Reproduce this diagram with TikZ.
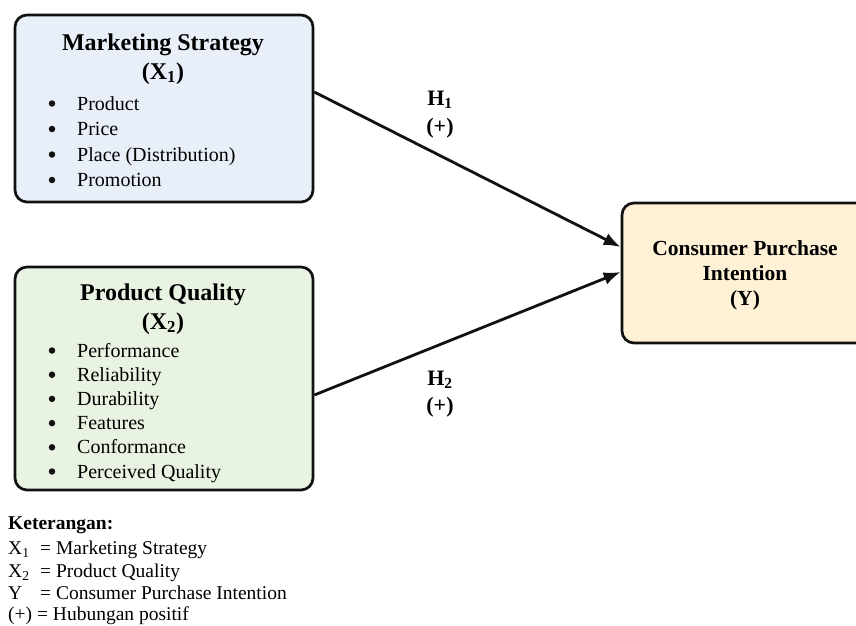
\documentclass[tikz,border=0pt]{standalone}
\usepackage{fontspec}
\setmainfont{Liberation Serif}
\usetikzlibrary{arrows.meta}
\definecolor{bluefill}{HTML}{E8EFF9}
\definecolor{greenfill}{HTML}{E9F3E1}
\definecolor{yellowfill}{HTML}{FEF1D6}
\definecolor{ink}{HTML}{111111}
\tikzset{
  box/.style={draw=ink, line width=2.7pt, rounded corners=12pt, inner sep=0pt},
  ttl/.style={anchor=base, font=\fontsize{24}{28}\selectfont\bfseries, inner sep=0pt},
  itm/.style={anchor=base west, font=\fontsize{20}{24}\selectfont, inner sep=0pt},
  bul/.style={circle, fill=ink, inner sep=0pt, minimum size=6.5pt},
  ytx/.style={anchor=base, font=\fontsize{21.5}{26}\selectfont\bfseries, inner sep=0pt},
  hyp/.style={anchor=base, font=\fontsize{22}{26}\selectfont\bfseries, inner sep=0pt},
  leg/.style={anchor=base west, font=\fontsize{19.5}{23}\selectfont, inner sep=0pt},
  arr/.style={draw=ink, line width=2.8pt, -{Latex[length=17pt,width=13pt]}}
}
\begin{document}
\begin{tikzpicture}[x=1pt,y=-1pt]
\useasboundingbox (0,0) rectangle (856,625);
% boxes
\node[box, fill=bluefill, minimum width=298pt, minimum height=187pt] (b1) at (164,108.5) {};
\node[box, fill=greenfill, minimum width=298pt, minimum height=223pt] (b2) at (164,378.5) {};
\node[box, fill=yellowfill, minimum width=250pt, minimum height=140pt] (y) at (747,273) {};
% box 1 text
\node[ttl] (t1) at (163,50) {Marketing Strategy};
\node[ttl] (t1b) at (163,79) {(X\textsubscript{1})};
\foreach \i/\txt [count=\k] in {110/Product,135.5/Price,161/Place (Distribution),186.5/Promotion}{
  \node[bul] (b1bul\k) at (52,\i-6.5) {};
  \node[itm] (b1itm\k) at (77,\i) {\txt};
}
% box 2 text
\node[ttl] (t2) at (163,300) {Product Quality};
\node[ttl] (t2b) at (163,329) {(X\textsubscript{2})};
\foreach \i/\txt [count=\k] in {357/Performance,381.2/Reliability,405.4/Durability,429.6/Features,453.8/Conformance,478/Perceived Quality}{
  \node[bul] (b2bul\k) at (52,\i-6.5) {};
  \node[itm] (b2itm\k) at (77,\i) {\txt};
}
% Y text
\node[ytx] (y1) at (745,255) {Consumer Purchase};
\node[ytx] (y2) at (745,280) {Intention};
\node[ytx] (y3) at (745,305) {(Y)};
% arrows
\draw[arr] ([yshift=16.5pt]b1.east) -- ([yshift=26pt]y.west);
\draw[arr] ([yshift=-16.5pt]b2.east) -- ([yshift=1pt]y.west);
% hypothesis labels
\node[hyp] (h1) at (440,105) {H\textsubscript{1}};
\node[hyp] (h1p) at (440,133) {(+)};
\node[hyp] (h2) at (440,385) {H\textsubscript{2}};
\node[hyp] (h2p) at (440,412) {(+)};
% legend
\node[leg, font=\fontsize{19.5}{23}\selectfont\bfseries] (k) at (8,529) {Keterangan:};
\node[leg] (l1a) at (8,554) {X\textsubscript{1}};
\node[leg] (l1b) at (40,554) {= Marketing Strategy};
\node[leg] (l2a) at (8,577) {X\textsubscript{2}};
\node[leg] (l2b) at (40,577) {= Product Quality};
\node[leg] (l3a) at (8,599.5) {Y};
\node[leg] (l3b) at (40,599.5) {= Consumer Purchase Intention};
\node[leg] (l4) at (8,620.5) {(+) = Hubungan positif};
\end{tikzpicture}
\end{document}
